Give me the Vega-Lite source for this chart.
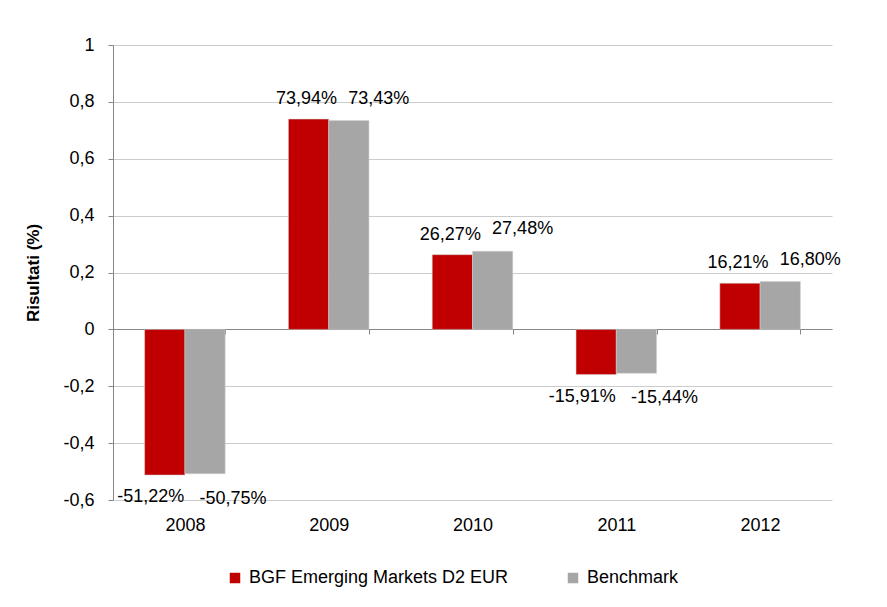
{
  "$schema": "https://vega.github.io/schema/vega-lite/v6.json",
  "width": 719,
  "height": 455,
  "autosize": {"type": "none"},
  "padding": {"left": 113, "top": 45, "right": 55, "bottom": 107},
  "background": "white",
  "config": {
    "locale": {"number": {"decimal": ",", "thousands": ".", "grouping": [3], "currency": ["", " €"], "minus": "-"}},
    "font": "Liberation Sans",
    "view": {"stroke": null},
    "axis": {"labelFont": "Liberation Sans", "labelColor": "#000000", "titleFont": "Liberation Sans"}
  },
  "data": {
    "values": [
      {"year": "2008", "series": "BGF Emerging Markets D2 EUR", "ret": -0.5122},
      {"year": "2008", "series": "Benchmark", "ret": -0.5075},
      {"year": "2009", "series": "BGF Emerging Markets D2 EUR", "ret": 0.7394},
      {"year": "2009", "series": "Benchmark", "ret": 0.7343},
      {"year": "2010", "series": "BGF Emerging Markets D2 EUR", "ret": 0.2627},
      {"year": "2010", "series": "Benchmark", "ret": 0.2748},
      {"year": "2011", "series": "BGF Emerging Markets D2 EUR", "ret": -0.1591},
      {"year": "2011", "series": "Benchmark", "ret": -0.1544},
      {"year": "2012", "series": "BGF Emerging Markets D2 EUR", "ret": 0.1621},
      {"year": "2012", "series": "Benchmark", "ret": 0.168}
    ]
  },
  "encoding": {
    "x": {
      "field": "year", "type": "nominal", "title": null,
      "scale": {"paddingInner": 0.44, "paddingOuter": 0.22},
      "axis": {
        "labelAngle": 0, "labelFontSize": 18, "offset": -171, "tickBand": "extent",
        "domainColor": "#868686", "tickColor": "#868686", "tickSize": 5,
        "labelPadding": 182, "grid": false
      }
    },
    "xOffset": {"field": "series", "type": "nominal", "sort": ["BGF Emerging Markets D2 EUR", "Benchmark"]},
    "y": {
      "field": "ret", "type": "quantitative", "title": "Risultati (%)",
      "scale": {"domain": [-0.6, 1], "nice": false, "zero": false},
      "axis": {
        "values": [-0.6, -0.4, -0.2, 0, 0.2, 0.4, 0.6, 0.8, 1],
        "format": ".1~f", "labelFontSize": 18, "labelPadding": 14,
        "domainColor": "#868686", "tickColor": "#868686", "tickSize": 5,
        "gridColor": "#CCCCCC", "titleFontSize": 17, "titleFontWeight": "bold",
        "titlePadding": 20, "titleColor": "#000000"
      }
    }
  },
  "layer": [
    {
      "mark": {"type": "bar", "stroke": "#D0D0D0", "strokeWidth": 0.5},
      "encoding": {
        "color": {
          "field": "series", "type": "nominal", "title": null,
          "scale": {"domain": ["BGF Emerging Markets D2 EUR", "Benchmark"], "range": ["#C00000", "#A6A6A6"]},
          "legend": {
            "orient": "none", "legendX": 113, "legendY": 524, "direction": "horizontal",
            "symbolType": "square", "symbolSize": 110, "labelFontSize": 18, "labelColor": "#000000",
            "columnPadding": 55, "labelOffset": 5, "labelLimit": 0, "symbolStrokeWidth": 0
          }
        }
      }
    },
    {
      "transform": [{"filter": "datum.ret >= 0 && datum.series == 'BGF Emerging Markets D2 EUR'"}],
      "mark": {"type": "text", "fontSize": 18, "baseline": "middle", "dy": -20, "dx": -2, "color": "#000000"},
      "encoding": {"text": {"field": "ret", "format": ".2%"}}
    },
    {
      "transform": [{"filter": "datum.ret < 0 && datum.series == 'BGF Emerging Markets D2 EUR'"}],
      "mark": {"type": "text", "fontSize": 18, "baseline": "middle", "dy": 22, "dx": -14, "color": "#000000"},
      "encoding": {"text": {"field": "ret", "format": ".2%"}}
    },
    {
      "transform": [{"filter": "datum.ret >= 0 && datum.series == 'Benchmark'"}],
      "mark": {"type": "text", "fontSize": 18, "baseline": "middle", "dy": -22, "dx": 30, "color": "#000000"},
      "encoding": {"text": {"field": "ret", "format": ".2%"}}
    },
    {
      "transform": [{"filter": "datum.ret < 0 && datum.series == 'Benchmark'"}],
      "mark": {"type": "text", "fontSize": 18, "baseline": "middle", "dy": 25, "dx": 28, "color": "#000000"},
      "encoding": {"text": {"field": "ret", "format": ".2%"}}
    }
  ]
}
